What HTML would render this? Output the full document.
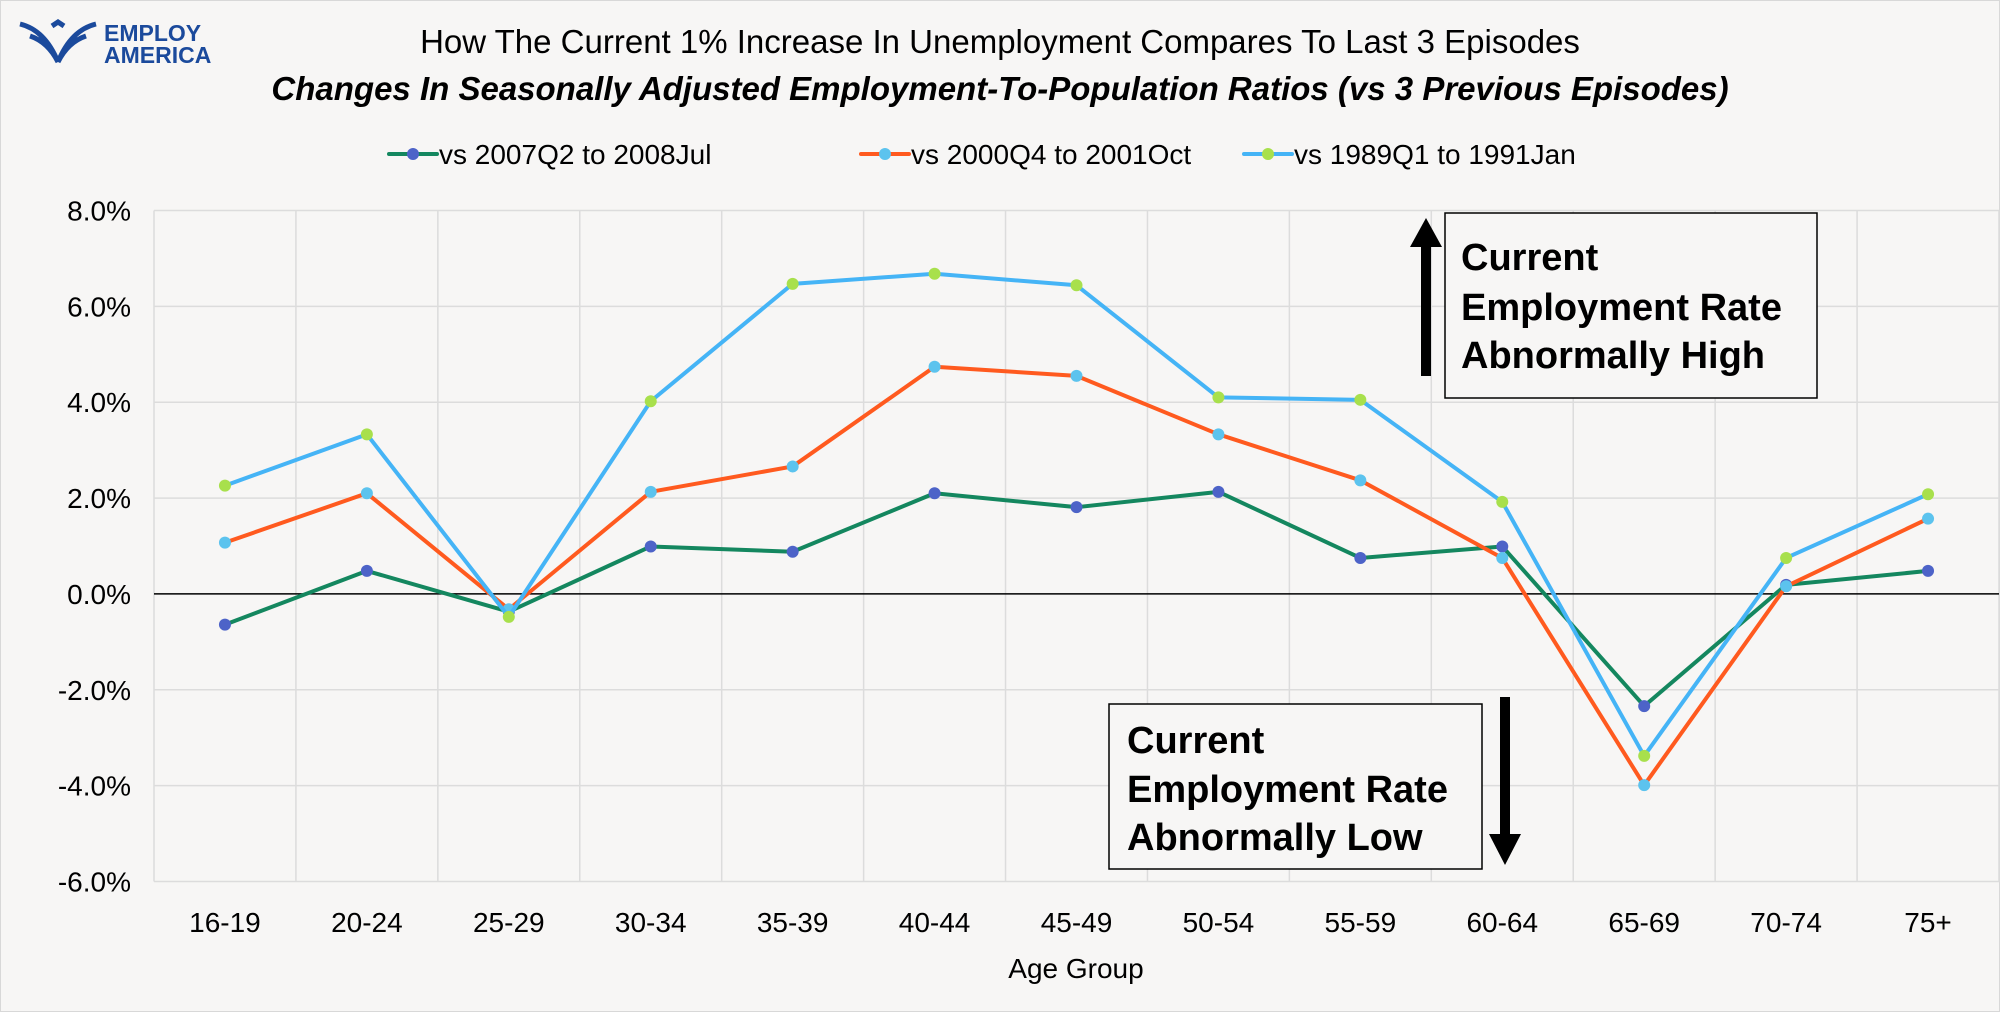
<!DOCTYPE html>
<html><head><meta charset="utf-8"><style>
html,body{margin:0;padding:0;background:#f7f6f5;}
svg{display:block;font-family:"Liberation Sans",sans-serif;}
</style></head><body>
<svg id="chart" width="2000" height="1012" viewBox="0 0 2000 1012">
<rect x="0" y="0" width="2000" height="1012" fill="#f7f6f5" stroke="#d8d8d8" stroke-width="2"/>
<g>
<g fill="none" stroke="#1b4a9c" stroke-width="5">
<path d="M20 24 Q45 30 58 62 M30 36 Q48 42 58 62 M96 24 Q71 30 58 62 M86 36 Q68 42 58 62 M52 26 L58 22 L64 26"/>
</g>
<text x="104" y="41" font-size="23" font-weight="bold" fill="#1b4a9c">EMPLOY</text>
<text x="104" y="63" font-size="23" font-weight="bold" fill="#1b4a9c">AMERICA</text>
</g>
<text x="1000" y="53" text-anchor="middle" font-size="33" fill="#000">How The Current 1% Increase In Unemployment Compares To Last 3 Episodes</text>
<text x="1000" y="100" text-anchor="middle" font-size="33" font-weight="bold" font-style="italic" fill="#000">Changes In Seasonally Adjusted Employment-To-Population Ratios (vs 3 Previous Episodes)</text>
<g id="grid"></g>
<g id="axes"></g>
<g id="series"></g>
<g id="legend"></g>
<g>
<rect x="1445" y="213" width="372" height="185" fill="#f7f6f5" stroke="#000" stroke-width="1.5"/>
<rect x="1421" y="244" width="10" height="132" fill="#000"/>
<polygon points="1410,247 1426,218 1442,247" fill="#000"/>
<text font-size="38" font-weight="bold" fill="#000"><tspan x="1461" y="270">Current</tspan><tspan x="1461" y="320">Employment Rate</tspan><tspan x="1461" y="368">Abnormally High</tspan></text>
</g>
<g>
<rect x="1109" y="704" width="373" height="165" fill="#f7f6f5" stroke="#000" stroke-width="1.5"/>
<rect x="1500" y="697" width="10" height="140" fill="#000"/>
<polygon points="1489,834 1505,865 1521,834" fill="#000"/>
<text font-size="38" font-weight="bold" fill="#000"><tspan x="1127" y="753">Current</tspan><tspan x="1127" y="802">Employment Rate</tspan><tspan x="1127" y="850">Abnormally Low</tspan></text>
</g>
</svg>
<script>
const categories=["16-19","20-24","25-29","30-34","35-39","40-44","45-49","50-54","55-59","60-64","65-69","70-74","75+"];
const series2007=[-0.64,0.48,-0.37,0.99,0.88,2.10,1.81,2.13,0.75,0.99,-2.34,0.19,0.48];
const series2000=[1.07,2.10,-0.32,2.13,2.66,4.74,4.55,3.33,2.37,0.75,-3.99,0.16,1.57];
const series1989=[2.26,3.33,-0.48,4.02,6.47,6.68,6.44,4.10,4.05,1.92,-3.38,0.75,2.08];
const yTicks=[8,6,4,2,0,-2,-4,-6];
const seriesNames=["vs 2007Q2 to 2008Jul","vs 2000Q4 to 2001Oct","vs 1989Q1 to 1991Jan"];

const NS="http://www.w3.org/2000/svg";
const L=154,R=1999,T=210.5,B=881.5,yMin=-6,yMax=8;
const band=(R-L)/categories.length;
const x=i=>L+band*(i+0.5);
const y=v=>B-(v-yMin)/(yMax-yMin)*(B-T);
function mk(tag,attrs,parent){const e=document.createElementNS(NS,tag);for(const k in attrs)e.setAttribute(k,attrs[k]);parent.appendChild(e);return e;}
const grid=document.getElementById('grid'),axes=document.getElementById('axes'),ser=document.getElementById('series'),leg=document.getElementById('legend');
yTicks.forEach(t=>{
 if(t!==0){const g=mk('line',{x1:L,x2:R,y1:y(t),y2:y(t),stroke:'#dcdcdc','stroke-width':1.5},grid);
 
 }
 const tx=mk('text',{x:131,y:y(t)+10,'text-anchor':'end','font-size':28,fill:'#000'},axes);
 tx.textContent=t.toFixed(1)+'%';
 
 
});
for(let i=0;i<=categories.length;i++){
 const g=mk('line',{x1:L+band*i,x2:L+band*i,y1:T,y2:B,stroke:'#dcdcdc','stroke-width':1.5},grid);
 
 
}
const z=mk('line',{x1:L,x2:R,y1:y(0),y2:y(0),stroke:'#000','stroke-width':1.5},axes);


categories.forEach((c,i)=>{
 const tx=mk('text',{x:x(i),y:932,'text-anchor':'middle','font-size':28,fill:'#000'},axes);
 tx.textContent=c;
 
 
});
const xt=mk('text',{x:1076,y:978,'text-anchor':'middle','font-size':28,fill:'#000'},axes);
xt.textContent='Age Group';



const defs=[[series2007,'#14875f','#4d63c8','series-2007'],[series2000,'#ff5a1f','#5cc3ee','series-2000'],[series1989,'#45b4f6','#a8e04c','series-1989']];
defs.forEach(([data,lc,mc,name])=>{
 const p=mk('polyline',{points:data.map((v,i)=>x(i)+','+y(v)).join(' '),fill:'none',stroke:lc,'stroke-width':4,'stroke-linejoin':'round'},ser);
 
 
 data.forEach((v,i)=>{
  const c=mk('circle',{cx:x(i),cy:y(v),r:6,fill:mc},ser);
  
  
 });
});
const lx=[389,861,1244];
defs.forEach(([d,lc,mc,name],k)=>{
 const g=mk('g',{},leg);
 
 
 mk('line',{x1:lx[k],x2:lx[k]+48,y1:154,y2:154,stroke:lc,'stroke-width':4,'stroke-linecap':'round'},g);
 mk('circle',{cx:lx[k]+24,cy:154,r:6,fill:mc},g);
 const t=mk('text',{x:lx[k]+50,y:164,'font-size':28,fill:'#000'},g);
 t.textContent=seriesNames[k];
});
</script>
</body></html>
